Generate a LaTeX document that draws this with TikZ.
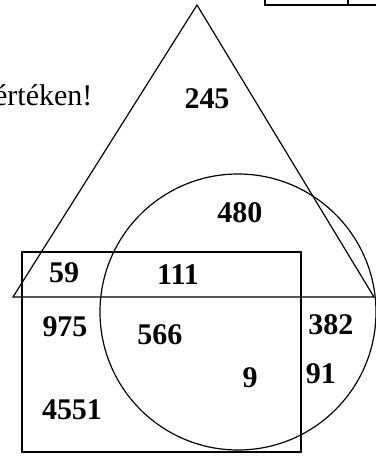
\documentclass[tikz,border=0pt]{standalone}
\usepackage{fontspec}
\setmainfont{Liberation Serif}
\usetikzlibrary{calc}

\begin{document}
\begin{tikzpicture}[x=0.5pt, y=-0.5pt, line width=0.6pt,
  num/.style={font=\fontsize{15}{18}\selectfont\bfseries, inner sep=0pt}]
  \useasboundingbox (0,0) rectangle (376,457);
  \clip (0,0) rectangle (376,457);

  % Table fragment at the top
  \draw (265,-10) -- (265,5) -- (380,5);
  \draw (348,-10) -- (348,5);

  % Text fragment
  \node[anchor=base east, inner sep=0pt, font=\fontsize{15}{18}\selectfont] (txt) at (93,105) {értéken!};

  % Triangle
  \coordinate (A) at (197,5);
  \coordinate (B) at (13,297);
  \coordinate (C) at (374,297);
  \draw (A) -- (B) -- (C) -- cycle;

  % Rectangle
  \draw (22,252) rectangle (301,452);

  % Circle
  \coordinate (O) at (238,312);
  \draw (O) circle (69pt);

  % Numbers
  \node[num] (n245) at (207,99) {245};
  \node[num] (n480) at (240,213) {480};
  \node[num] (n59) at (64,273) {59};
  \node[num] (n111) at (178,275) {111};
  \node[num] (n975) at (65,327) {975};
  \node[num] (n566) at (160,335) {566};
  \node[num] (n382) at (331,325) {382};
  \node[num] (n91) at (321,374) {91};
  \node[num] (n9) at (250,378) {9};
  \node[num] (n4551) at (72,410) {4551};
\end{tikzpicture}
\end{document}
